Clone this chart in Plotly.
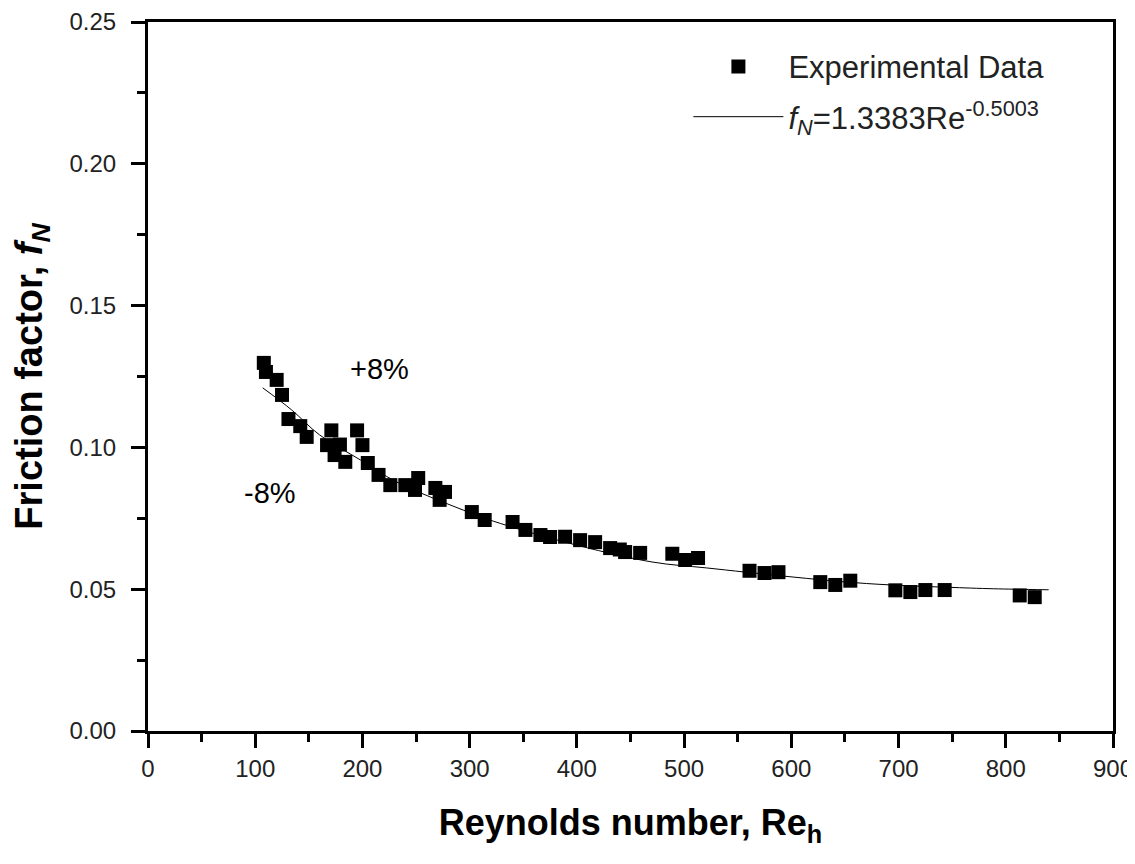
import plotly.graph_objects as go

re_exp = [108, 110, 120, 125, 131, 142, 148, 167, 171, 174, 179, 184,
          195, 200, 205, 215, 226, 240, 249, 252, 268, 272, 277, 302,
          314, 340, 352, 366, 375, 389, 403, 417, 431, 440, 445, 459,
          489, 501, 513, 561, 575, 588, 627, 641, 655, 697, 711, 725,
          743, 813, 827]
f_exp = [0.1298, 0.1266, 0.1238, 0.1185, 0.110, 0.1075, 0.1037, 0.1008, 0.106, 0.0973, 0.101, 0.0949,
         0.106, 0.1008, 0.0945, 0.0903, 0.0867, 0.0867, 0.085, 0.0892, 0.0857, 0.0815, 0.0843, 0.0772,
         0.0744, 0.0737, 0.0709, 0.0691, 0.0684, 0.0685, 0.0673, 0.0666, 0.0645, 0.064, 0.0631, 0.0628,
         0.0625, 0.0603, 0.061, 0.0565, 0.0557, 0.056, 0.0525, 0.0515, 0.053, 0.0496, 0.049, 0.0497,
         0.0497, 0.0478, 0.0472]

# Fitted curve as drawn
re_fit = [107, 134, 160, 198, 232, 294, 322, 390, 470, 521, 596, 670, 767, 807, 840]
f_fit = [0.121, 0.1132, 0.1044, 0.0956, 0.0878, 0.0779, 0.0740, 0.0665, 0.0596, 0.0575,
         0.0545, 0.052, 0.0504, 0.050, 0.0498]

x_ticks = [0, 100, 200, 300, 400, 500, 600, 700, 800, 900]
y_ticks = [0.00, 0.05, 0.10, 0.15, 0.20, 0.25]

font = "Liberation Sans, Arial, sans-serif"

fig = go.Figure()
fig.add_trace(go.Scatter(
    x=re_exp, y=f_exp, mode="markers", name="Experimental Data",
    marker=dict(symbol="square", size=14, color="black"),
    legendgroup="a"))
fig.add_trace(go.Scatter(
    x=re_fit, y=f_fit, mode="lines",
    name="<i>f</i><sub><i>N</i></sub>=1.3383Re<sup>-0.5003</sup>",
    line=dict(color="black", width=1, shape="spline"),
    legendgroup="b"))

fig.add_annotation(x=216, y=0.1276, text="+8%", showarrow=False,
                   font=dict(size=29, color="black", family=font))
fig.add_annotation(x=114, y=0.0839, text="-8%", showarrow=False,
                   font=dict(size=29, color="black", family=font))

axis_common = dict(
    showline=True, linecolor="black", linewidth=3, mirror=True,
    ticks="outside", ticklen=14, tickwidth=3, tickcolor="black",
    showgrid=False, zeroline=False, automargin=False,
    tickfont=dict(size=24, color="#222", family=font),
)

fig.update_xaxes(
    range=[0, 900], tickvals=x_ticks,
    minor=dict(ticks="outside", ticklen=8, tickwidth=3, tickcolor="black", dtick=50),
    title=dict(text="<b>Reynolds number, Re<sub>h</sub></b>",
               font=dict(size=36, color="black", family=font), standoff=30),
    **axis_common)
fig.update_yaxes(
    range=[0, 0.25], tickvals=y_ticks, tickformat=".2f", ticklabelstandoff=10,
    minor=dict(ticks="outside", ticklen=8, tickwidth=3, tickcolor="black", dtick=0.025),
    title=dict(text="<b>Friction factor, <i>f</i><sub><i>N</i></sub></b>",
               font=dict(size=38, color="black", family=font), standoff=32),
    **axis_common)

# page body adds an 8px offset, so the figure is sized to fit the window
fig.update_layout(
    width=1127, height=846,
    margin=dict(l=140, r=22, t=14, b=123),
    plot_bgcolor="white", paper_bgcolor="white",
    font=dict(family=font, color="black"),
    legend=dict(x=0.56, y=0.975, xanchor="left", yanchor="top",
                font=dict(size=31, color="#222", family=font),
                itemwidth=90, tracegroupgap=7, bgcolor="rgba(0,0,0,0)"),
)

fig.write_html("out.html")
